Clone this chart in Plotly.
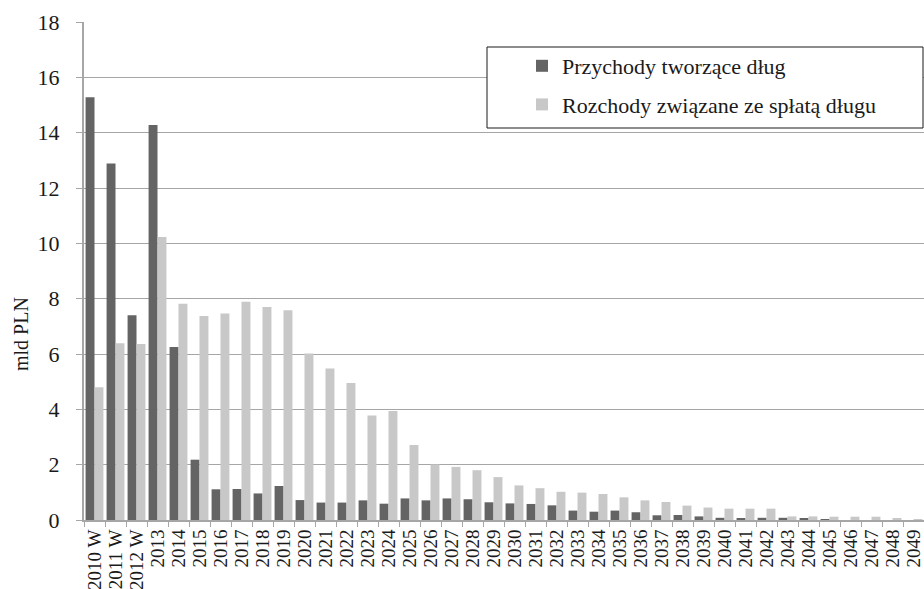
import plotly.graph_objects as go

# Categories (years; "W" marks executed budgets)
years = ["2010 W", "2011 W", "2012 W"] + [str(y) for y in range(2013, 2050)]

# Revenues creating debt (bn PLN)
przychody = [15.28, 12.89, 7.40, 14.28, 6.25, 2.18, 1.11, 1.12, 0.96, 1.23,
             0.72, 0.63, 0.63, 0.71, 0.59, 0.78, 0.71, 0.78, 0.75, 0.64,
             0.60, 0.58, 0.53, 0.34, 0.30, 0.34, 0.28, 0.17, 0.18, 0.13,
             0.08, 0.06, 0.08, 0.08, 0.06, 0.01, 0.0, 0.0, 0.0, 0.0]

# Expenditures on debt repayment (bn PLN)
rozchody = [4.80, 6.39, 6.36, 10.23, 7.82, 7.37, 7.46, 7.89, 7.70, 7.58,
            6.02, 5.48, 4.95, 3.78, 3.94, 2.71, 2.01, 1.92, 1.80, 1.55,
            1.25, 1.15, 1.02, 0.99, 0.94, 0.82, 0.71, 0.65, 0.52, 0.45,
            0.41, 0.41, 0.41, 0.13, 0.13, 0.12, 0.12, 0.12, 0.05, 0.01]

series_names = ["Przychody tworzące dług", "Rozchody związane ze spłatą długu"]

FONT = "Liberation Serif, Times New Roman, serif"
GRID = "#a6a6a6"

fig = go.Figure()
fig.add_trace(go.Bar(x=years, y=przychody, name=series_names[0],
                     marker=dict(color="#646464", line=dict(width=0)),
                     legendgroup="a"))
fig.add_trace(go.Bar(x=years, y=rozchody, name=series_names[1],
                     marker=dict(color="#c8c8c8", line=dict(width=0)),
                     legendgroup="b"))

W, H = 924, 589
L, R, T, B = 84, 0, 22, 69
pw, ph = W - L - R, H - T - B


def px_x(p):
    return (p - L) / pw


def px_y(p):
    return (H - B - p) / ph


fig.update_layout(
    width=W, height=H,
    margin=dict(l=L, r=R, t=T, b=B, pad=0),
    paper_bgcolor="white", plot_bgcolor="white",
    font=dict(family=FONT, color="#1a1a1a"),
    barmode="group", bargap=0.15, bargroupgap=0.0,
    showlegend=True,
    legend=dict(
        x=px_x(522), y=px_y(45), xanchor="left", yanchor="top",
        font=dict(family=FONT, size=22, color="#1a1a1a"),
        bgcolor="rgba(0,0,0,0)", borderwidth=0,
        traceorder="grouped", tracegroupgap=7,
    ),
    xaxis=dict(
        type="category", tickangle=-90,
        tickmode="array", tickvals=years, ticktext=years,
        tickfont=dict(family=FONT, size=19, color="#1a1a1a"),
        showline=True, linecolor=GRID, linewidth=2,
        ticks="outside", tickson="boundaries", ticklen=5,
        tickcolor=GRID, tickwidth=1,
        showgrid=False, range=[-0.5, len(years) - 0.5],
    ),
    yaxis=dict(
        range=[0, 18], dtick=2,
        tickfont=dict(family=FONT, size=22, color="#1a1a1a"),
        showline=True, linecolor=GRID, linewidth=2,
        ticks="outside", ticklen=6, tickcolor=GRID,
        ticklabelstandoff=12,
        showgrid=True, gridcolor=GRID, gridwidth=1,
        zeroline=False,
    ),
    shapes=[dict(
        type="rect", xref="paper", yref="paper",
        x0=px_x(487), x1=px_x(923), y0=px_y(128), y1=px_y(47),
        line=dict(color="#1a1a1a", width=1), fillcolor="white",
        layer="above",
    )],
    annotations=[dict(
        text="mld PLN", xref="paper", yref="paper",
        x=px_x(21), y=px_y(334), xanchor="center", yanchor="middle",
        textangle=-90, showarrow=False,
        font=dict(family=FONT, size=20, color="#1a1a1a"),
    )],
)

fig.write_html("out.html")
